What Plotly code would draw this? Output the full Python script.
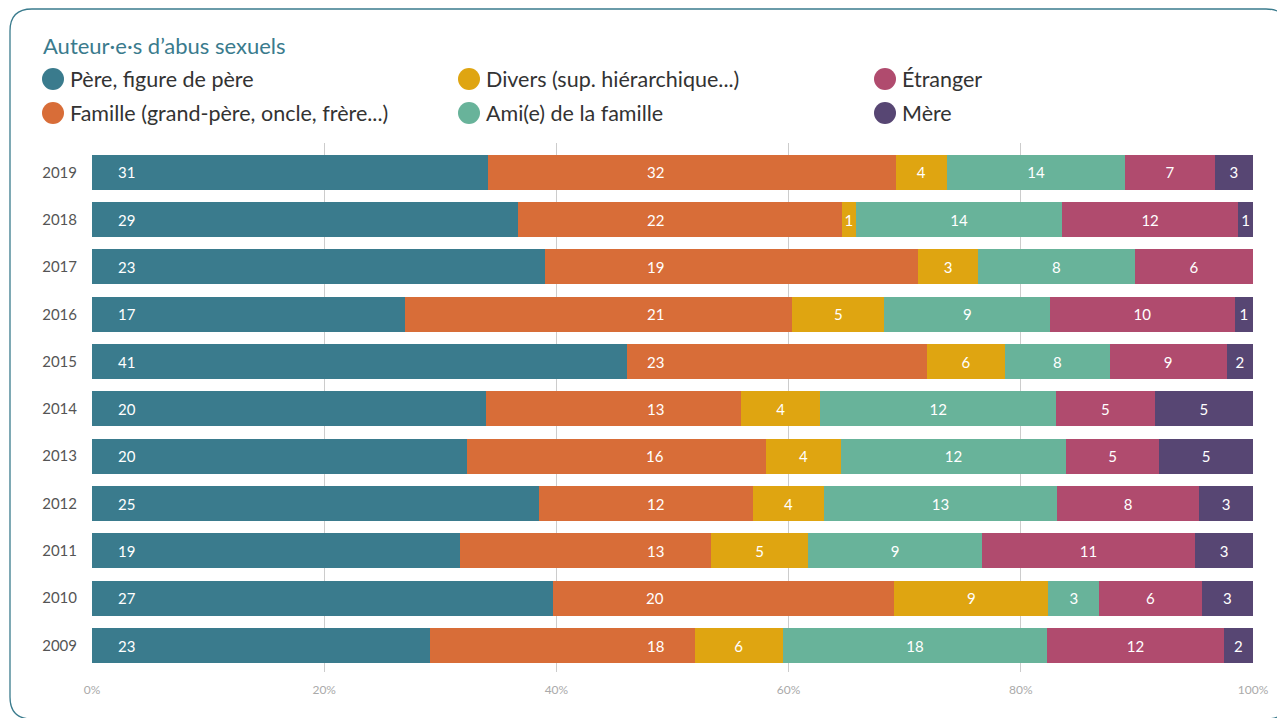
import plotly.graph_objects as go

# ---------------- data ----------------
years = ["2009", "2010", "2011", "2012", "2013", "2014", "2015", "2016", "2017", "2018", "2019"]
pere = [23, 27, 19, 25, 20, 20, 41, 17, 23, 29, 31]
famille = [18, 20, 13, 12, 16, 13, 23, 21, 19, 22, 32]
divers = [6, 9, 5, 4, 4, 4, 6, 5, 3, 1, 4]
ami = [18, 3, 9, 13, 12, 12, 8, 9, 8, 14, 14]
etranger = [12, 6, 11, 8, 5, 5, 9, 10, 6, 12, 7]
mere = [2, 3, 3, 3, 5, 5, 2, 1, None, 1, 3]

series_names = ["Père, figure de père", "Famille (grand-père, oncle, frère...)",
                "Divers (sup. hiérarchique...)", "Ami(e) de la famille", "Étranger", "Mère"]
x_tick_vals = [0, 20, 40, 60, 80, 100]
x_tick_text = ["0%", "20%", "40%", "60%", "80%", "100%"]
title_text = "Auteur·e·s d’abus sexuels"

# ---------------- style ----------------
colors = ["#3a7b8d", "#d86d38", "#dfa511", "#68b39a", "#b04b6e", "#574673"]
FONT = "Lato"
SW, SH = 1285, 718          # browser window
OFF = 8                      # page body margin
L, R, T, B = 92, 1253, 143, 672   # plot area in screen pixels
LABEL_X = {0: 3.0, 1: 48.5}  # fixed label positions (percent) used by the original for first two series
BAR_FONT = 15


def px(x):
    return (x - L) / (R - L)


def py(y):
    return (B - y) / (B - T)


all_series = [pere, famille, divers, ami, etranger, mere]

fig = go.Figure()
annotations = []
for i, (name, vals) in enumerate(zip(series_names, all_series)):
    texts = ["" if v is None else str(v) for v in vals]
    use_text = i not in LABEL_X
    fig.add_trace(go.Bar(
        y=years, x=vals, name=name, orientation="h",
        marker=dict(color=colors[i], line=dict(width=0)),
        text=texts if use_text else None,
        textposition="inside" if use_text else "none",
        insidetextanchor="middle",
        textangle=0,
        textfont=dict(color="white", size=BAR_FONT, family=FONT),
        width=0.74,
        showlegend=False,
        hoverinfo="skip",
    ))
    if not use_text:
        for idx, t in enumerate(texts):
            if t:
                annotations.append(dict(x=LABEL_X[i], y=idx, xref="x", yref="y", text=t,
                                        showarrow=False,
                                        font=dict(color="white", size=BAR_FONT, family=FONT)))

# title
annotations.append(dict(x=px(41), y=py(45), xref="paper", yref="paper", text=title_text,
                        showarrow=False, xanchor="left", yanchor="middle",
                        font=dict(color="#3a7b8d", size=22, family=FONT)))

# manual legend with round markers (column-major like the original)
shapes = []
legend_pos = [(53, 79), (53, 113), (469, 79), (469, 113), (885, 79), (885, 113)]
rad = 11
for i, (cx, cy) in enumerate(legend_pos):
    shapes.append(dict(type="circle", xref="paper", yref="paper",
                       x0=px(cx - rad), x1=px(cx + rad), y0=py(cy + rad), y1=py(cy - rad),
                       fillcolor=colors[i], line=dict(width=0)))
    annotations.append(dict(x=px(cx + 15), y=py(cy), xref="paper", yref="paper",
                            text=series_names[i], showarrow=False, xanchor="left", yanchor="middle",
                            font=dict(color="#333333", size=21.5, family=FONT)))

# rounded frame
x0, y0, x1, y1, r = 10, 9, 1288, 719, 22
pts = lambda x, y: f"{px(x)},{py(y)}"
path = (f"M {pts(x0 + r, y0)} L {pts(x1 - r, y0)} Q {pts(x1, y0)} {pts(x1, y0 + r)} "
        f"L {pts(x1, y1 - r)} Q {pts(x1, y1)} {pts(x1 - r, y1)} "
        f"L {pts(x0 + r, y1)} Q {pts(x0, y1)} {pts(x0, y1 - r)} "
        f"L {pts(x0, y0 + r)} Q {pts(x0, y0)} {pts(x0 + r, y0)} Z")
shapes.append(dict(type="path", xref="paper", yref="paper", path=path,
                   line=dict(color="#3a7b8d", width=1.3)))

fig.update_layout(
    width=SW - OFF, height=SH - OFF,
    barmode="stack", barnorm="percent",
    margin=dict(l=L - OFF, r=SW - R, t=T - OFF, b=SH - B, pad=0),
    paper_bgcolor="white", plot_bgcolor="white",
    font=dict(family=FONT),
    uniformtext=dict(minsize=BAR_FONT, mode="show"),
    xaxis=dict(range=[0, 100], tickmode="array", tickvals=x_tick_vals, ticktext=x_tick_text,
               showgrid=True, gridcolor="#cccccc", gridwidth=1, zeroline=False, showline=False,
               ticks="", ticklabelstandoff=9,
               tickfont=dict(size=12, color="#aaaaaa", family=FONT), fixedrange=True),
    yaxis=dict(type="category", categoryorder="array", categoryarray=years,
               range=[-0.56, 10.62], showgrid=False, zeroline=False, showline=False,
               ticks="", ticklabelstandoff=14,
               tickfont=dict(size=15, color="#555555", family=FONT), fixedrange=True),
    annotations=annotations,
    shapes=shapes,
    showlegend=False,
)

fig.write_html("out.html")
